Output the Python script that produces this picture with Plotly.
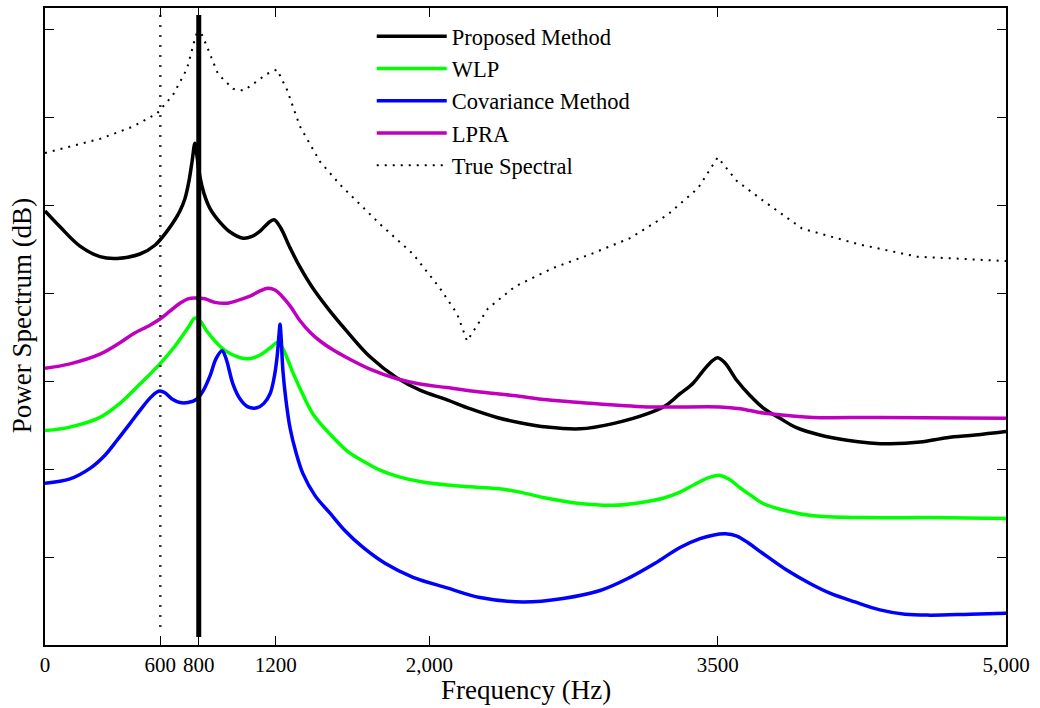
import plotly.graph_objects as go

# ---------------- data (Hz, dB) ----------------
true_f = [0, 286, 458, 583, 666, 739, 780, 800, 843, 900, 978, 1035, 1155, 1207, 1259, 1327,
          1431, 1535, 1743, 1915, 2055, 2144, 2196, 2305, 2445, 2643, 2841, 3044, 3241, 3398,
          3500, 3600, 3741, 3939, 4235, 4537, 5000]
true_db = [-14.0, -12.4, -11.0, -9.5, -7.4, -4.4, -1.0, 0.3, -1.9, -5.0, -6.7, -6.9, -5.0, -4.5,
           -6.8, -11.0, -15.0, -17.6, -22.1, -25.5, -29.4, -32.3, -35.4, -31.7, -29.2, -27.1,
           -25.5, -23.7, -21.0, -18.0, -14.5, -17.2, -19.5, -22.6, -24.4, -25.8, -26.3]

prop_f = [0, 78, 182, 286, 375, 494, 572, 635, 676, 702, 728, 749, 765, 780, 791, 806, 827, 858,
          911, 963, 1030, 1077, 1119, 1160, 1191, 1223, 1275, 1327, 1394, 1483, 1571, 1691, 1831,
          1951, 2092, 2211, 2352, 2471, 2612, 2784, 2955, 3132, 3226, 3304, 3372, 3424, 3470,
          3500, 3538, 3600, 3668, 3736, 3824, 3913, 4032, 4173, 4292, 4397, 4553, 4693, 4839, 5000]
prop_db = [-20.6, -22.4, -24.6, -25.8, -26.0, -25.5, -24.5, -22.9, -21.6, -20.6, -19.2, -17.2,
           -15.0, -12.9, -14.4, -16.7, -18.6, -20.3, -21.9, -23.0, -23.7, -23.5, -22.9, -22.0,
           -21.6, -22.4, -24.8, -27.0, -29.4, -32.0, -34.3, -37.2, -39.6, -41.0, -42.1, -43.1,
           -44.1, -44.7, -45.2, -45.4, -44.8, -43.7, -42.8, -41.4, -40.2, -38.8, -37.7, -37.3,
           -37.9, -39.9, -41.6, -43.0, -44.2, -45.3, -46.1, -46.7, -47.0, -47.1, -46.9, -46.4,
           -46.1, -45.7]

wlp_f = [0, 130, 286, 390, 494, 598, 676, 744, 780, 806, 843, 884, 937, 1015, 1067, 1119, 1171,
         1207, 1233, 1259, 1290, 1327, 1394, 1483, 1571, 1665, 1743, 1847, 1951, 2092, 2211, 2352,
         2471, 2612, 2784, 2955, 3096, 3215, 3304, 3382, 3460, 3512, 3564, 3616, 3668, 3736, 3850,
         3996, 4256, 4605, 5000]
wlp_db = [-45.6, -45.2, -44.1, -42.5, -40.3, -38.0, -36.0, -33.9, -32.8, -33.1, -34.3, -35.4,
          -36.5, -37.3, -37.4, -37.0, -36.2, -35.6, -36.1, -37.3, -39.0, -40.8, -43.7, -46.0,
          -47.9, -49.2, -50.1, -50.9, -51.4, -51.8, -52.0, -52.2, -52.6, -53.3, -53.9, -54.1,
          -53.8, -53.3, -52.6, -51.7, -50.9, -50.7, -51.2, -52.1, -52.9, -53.9, -54.7, -55.3,
          -55.5, -55.5, -55.6]

cov_f = [0, 130, 234, 312, 375, 442, 494, 546, 583, 598, 624, 661, 702, 744, 791, 822, 858, 890,
         921, 942, 978, 1015, 1056, 1103, 1139, 1171, 1191, 1207, 1217, 1223, 1228, 1238, 1254,
         1275, 1306, 1342, 1405, 1483, 1561, 1655, 1769, 1915, 2092, 2263, 2487, 2695, 2888, 3044,
         3174, 3304, 3408, 3475, 3540, 3600, 3660, 3730, 3861, 3980, 4084, 4214, 4344, 4474, 4605,
         4813, 5000]
cov_db = [-51.6, -51.1, -49.9, -48.4, -46.7, -44.8, -43.3, -41.9, -41.2, -41.1, -41.3, -42.0,
          -42.4, -42.4, -42.0, -41.1, -39.4, -37.4, -36.5, -37.4, -40.3, -42.0, -42.9, -43.0,
          -42.5, -41.4, -39.7, -37.3, -34.8, -33.5, -34.8, -38.8, -42.2, -45.3, -48.1, -50.5,
          -53.0, -55.0, -57.0, -58.9, -60.7, -62.3, -63.5, -64.6, -65.1, -64.7, -63.8, -62.3,
          -60.7, -58.9, -57.9, -57.5, -57.35, -57.6, -58.4, -59.5, -61.5, -63.0, -64.1, -65.1,
          -66.0, -66.5, -66.6, -66.5, -66.4]

lpra_f = [0, 130, 286, 390, 458, 546, 598, 650, 702, 744, 780, 832, 884, 947, 1015, 1067, 1119,
          1160, 1197, 1233, 1275, 1327, 1379, 1431, 1498, 1571, 1691, 1831, 1951, 2092, 2263,
          2435, 2612, 2784, 3132, 3512, 3616, 3736, 3876, 3996, 4344, 5000]
lpra_db = [-38.5, -38.0, -36.9, -35.6, -34.6, -33.6, -32.9, -32.0, -31.1, -30.6, -30.5, -30.6,
           -31.0, -31.1, -30.7, -30.3, -29.7, -29.4, -29.6, -30.3, -31.4, -33.1, -34.4, -35.4,
           -36.4, -37.3, -38.6, -39.7, -40.3, -40.7, -41.2, -41.6, -42.1, -42.4, -42.9, -42.9,
           -43.1, -43.6, -43.9, -44.1, -44.1, -44.2]

# vertical marker lines
stem_f = [800, 800]
stem_db = [1.7, -69.1]
ref_f = [600, 600]
ref_db = [1.7, -68.6]

x_ticks = [0, 600, 800, 1200, 2000, 3500, 5000]
x_ticktext = ["0", "600", "800", "1200", "2,000", "3500", "5,000"]
y_ticks = [-70, -60, -50, -40, -30, -20, -10, 0]

FONT = "Liberation Serif"

fig = go.Figure()
line_kw = dict(shape="spline", smoothing=1.0)

fig.add_trace(go.Scatter(x=prop_f, y=prop_db, mode="lines", name="Proposed Method",
                         line=dict(color="black", width=3.5, **line_kw)))
fig.add_trace(go.Scatter(x=wlp_f, y=wlp_db, mode="lines", name="WLP",
                         line=dict(color="#00ff00", width=3.5, **line_kw)))
fig.add_trace(go.Scatter(x=cov_f, y=cov_db, mode="lines", name="Covariance Method",
                         line=dict(color="#0000ff", width=3.5, **line_kw)))
fig.add_trace(go.Scatter(x=lpra_f, y=lpra_db, mode="lines", name="LPRA",
                         line=dict(color="#bf00bf", width=3.5, **line_kw)))
fig.add_trace(go.Scatter(x=true_f, y=true_db, mode="lines", name="True Spectral",
                         line=dict(color="black", width=2, dash="2px,6px")))
fig.add_trace(go.Scatter(x=ref_f, y=ref_db, mode="lines", showlegend=False,
                         line=dict(color="#333333", width=2.5, dash="2px,8px")))
fig.add_trace(go.Scatter(x=stem_f, y=stem_db, mode="lines", showlegend=False,
                         line=dict(color="black", width=5)))

axis_common = dict(showline=True, linecolor="black", linewidth=1.5, mirror="allticks",
                   ticks="inside", ticklen=9, tickcolor="black", tickwidth=1,
                   showgrid=False, zeroline=False)

fig.update_xaxes(range=[0, 5000], tickvals=x_ticks, ticktext=x_ticktext,
                 tickfont=dict(family=FONT, size=21, color="black"), **axis_common)
fig.update_yaxes(range=[-70, 2.5], tickvals=y_ticks, showticklabels=False, **axis_common)

fig.update_layout(
    width=1040, height=708,
    margin=dict(l=45, r=34, t=6, b=63),
    paper_bgcolor="white", plot_bgcolor="white",
    font=dict(family=FONT, color="black"),
    showlegend=True,
    legend=dict(x=0.340, y=0.989, xanchor="left", yanchor="top",
                bgcolor="rgba(0,0,0,0)", borderwidth=0,
                font=dict(family=FONT, size=22.5, color="black"),
                itemwidth=70, tracegroupgap=0),
    annotations=[
        dict(text="Frequency (Hz)", x=0.5, y=-0.0704, xref="paper", yref="paper",
             xanchor="center", yanchor="middle", showarrow=False,
             font=dict(family=FONT, size=27, color="black")),
        dict(text="Power Spectrum (dB)", x=-0.0239, y=0.516, xref="paper", yref="paper",
             xanchor="center", yanchor="middle", showarrow=False, textangle=-90,
             font=dict(family=FONT, size=27, color="black")),
    ],
)

fig.write_html("out.html")
